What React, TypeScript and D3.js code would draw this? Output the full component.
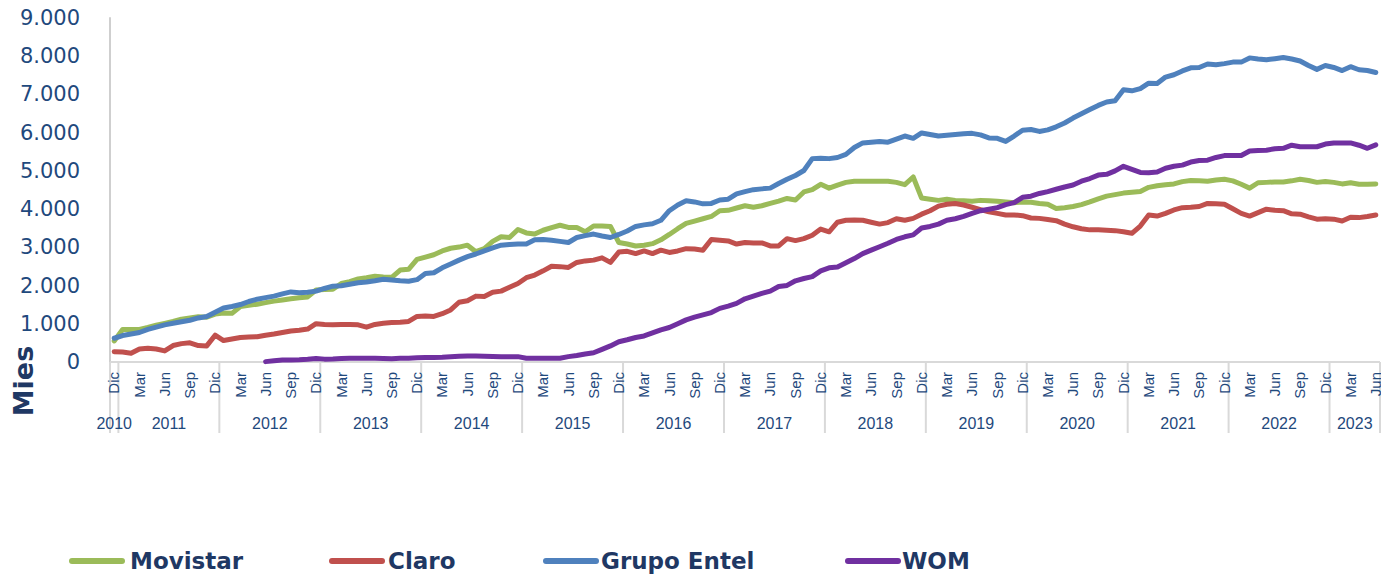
import React from 'react';
import * as d3 from 'd3';

// meses en español, la serie va de Dic 2010 a Jun 2023
const monthNames = ['Ene', 'Feb', 'Mar', 'Abr', 'May', 'Jun', 'Jul', 'Ago', 'Sep', 'Oct', 'Nov', 'Dic'];
const years = [2010, 2011, 2012, 2013, 2014, 2015, 2016, 2017, 2018, 2019, 2020, 2021, 2022, 2023];
const yTicks = [0, 1000, 2000, 3000, 4000, 5000, 6000, 7000, 8000, 9000];
const shownMonths = ['Dic', 'Mar', 'Jun', 'Sep'];

// miles de abonados
const movistar = [
  550, 850, 850, 850, 900, 960, 1010, 1060, 1120, 1150, 1180, 1170,
  1250, 1280, 1270, 1450, 1480, 1510, 1550, 1590, 1620, 1650, 1680, 1700,
  1880, 1890, 1900, 2050, 2100, 2170, 2200, 2240, 2220, 2210, 2400, 2420,
  2680, 2740, 2800, 2900, 2970, 3000, 3050, 2880, 2960, 3150, 3270, 3250,
  3460, 3370, 3340, 3440, 3510, 3570, 3515, 3510, 3400, 3550, 3550, 3540,
  3120, 3080, 3030, 3050, 3090, 3190, 3330, 3480, 3620, 3680, 3740, 3800,
  3950, 3960, 4020, 4080, 4040, 4080, 4140, 4200, 4270, 4230, 4440, 4500,
  4640, 4540, 4620, 4690, 4720, 4720, 4720, 4720, 4720, 4690, 4630, 4830,
  4280, 4250, 4220, 4250, 4220, 4210, 4200, 4220, 4210, 4200, 4180, 4160,
  4180, 4170, 4140, 4120, 4010, 4030, 4060, 4110, 4180, 4260, 4330, 4370,
  4410, 4430, 4450, 4560, 4600, 4630, 4650, 4710, 4740, 4730, 4720, 4750,
  4770, 4730, 4640, 4540, 4680, 4690, 4700, 4700, 4730, 4770, 4740, 4690,
  4710, 4690, 4650, 4680, 4640, 4640, 4650,
];

const claro = [
  270, 260, 230, 340, 360, 340, 290, 430, 480, 500, 430, 420,
  700, 560, 600, 640, 650, 660, 700, 730, 770, 810, 830, 860,
  1000, 980, 970, 980, 980, 970, 910, 980, 1010, 1030, 1040, 1060,
  1190, 1200, 1190, 1260, 1360, 1560, 1600, 1720, 1710, 1820, 1850, 1950,
  2050, 2200, 2270, 2380, 2500, 2490, 2470, 2600, 2640, 2660, 2720, 2600,
  2870, 2890, 2830, 2900, 2830, 2920, 2860, 2900, 2960, 2950, 2920, 3200,
  3180, 3160, 3080, 3120, 3110, 3110, 3030, 3030, 3220, 3170, 3220, 3310,
  3470, 3400, 3650, 3700, 3710, 3700, 3650, 3600, 3640, 3740, 3700, 3750,
  3860, 3950, 4070, 4120, 4140, 4100, 4040, 3980, 3920, 3880, 3840, 3840,
  3820, 3760, 3750, 3720, 3690, 3600, 3530, 3480, 3450, 3450, 3440, 3430,
  3400, 3360, 3550, 3840, 3810, 3880, 3970, 4030, 4040, 4060, 4140, 4130,
  4120, 4000, 3880, 3810, 3900, 3990, 3960, 3950, 3870, 3860, 3790, 3730,
  3740, 3730, 3680, 3780, 3770, 3800, 3840,
];

const entel = [
  620, 690, 730, 770, 850, 910, 970, 1010, 1050, 1090, 1150, 1190,
  1300, 1410, 1450, 1500, 1580, 1640, 1680, 1720, 1780, 1830, 1810, 1820,
  1850, 1920, 1980, 1990, 2030, 2070, 2090, 2120, 2160, 2140, 2120, 2110,
  2150, 2310, 2330, 2460, 2560, 2660, 2750, 2820, 2900, 2980, 3050, 3070,
  3080, 3080, 3190, 3200, 3180, 3150, 3120, 3250, 3300, 3340, 3290, 3250,
  3330, 3420, 3540, 3580, 3610, 3700, 3950, 4100, 4210, 4180, 4130, 4140,
  4230, 4250, 4390, 4450, 4500, 4520, 4540, 4660, 4770, 4870, 5000, 5310,
  5320, 5310, 5340, 5420, 5600, 5720, 5740, 5760, 5740, 5820, 5900, 5840,
  5980, 5940, 5900, 5920, 5940, 5960, 5970, 5930, 5850, 5840, 5760, 5900,
  6050, 6070, 6020, 6060, 6140, 6240, 6370, 6480, 6590, 6700, 6790, 6820,
  7110, 7080, 7140, 7280, 7270, 7440, 7500, 7600, 7680, 7690, 7780, 7760,
  7790, 7830, 7830, 7940, 7910, 7890, 7920, 7950, 7910, 7860, 7740, 7640,
  7740, 7690, 7610, 7710, 7630, 7610, 7560,
];

// WOM parte en Jun 2012
const wom = [
  null, null, null, null, null, null, null, null, null, null, null, null,
  null, null, null, null, null, null, 10, 30, 50, 55, 60, 70,
  90, 75, 80, 90, 95, 100, 100, 95, 90, 85, 95, 100,
  110, 115, 120, 125, 140, 150, 155, 155, 150, 145, 140, 140,
  140, 100, 95, 95, 95, 100, 140, 170, 210, 240, 330, 420,
  530, 580, 640, 680, 760, 840, 900, 1000, 1100, 1170, 1230, 1290,
  1400, 1460, 1530, 1650, 1720, 1790, 1850, 1970, 2000, 2120, 2180, 2230,
  2380, 2460, 2480, 2590, 2700, 2830, 2920, 3010, 3100, 3200, 3270, 3320,
  3500, 3540, 3600, 3700, 3740, 3800, 3880, 3950, 3990, 4030, 4110, 4160,
  4300, 4330, 4400, 4450, 4510, 4570, 4620, 4720, 4790, 4880, 4900, 4990,
  5110, 5030, 4950, 4940, 4960, 5060, 5110, 5140, 5220, 5260, 5270, 5340,
  5390, 5390, 5390, 5510, 5520, 5530, 5570, 5580, 5660, 5620, 5620, 5620,
  5690, 5720, 5720, 5720, 5660, 5580, 5670,
];

const series = [
  { name: 'Movistar', color: '#9BBB59', values: movistar },
  { name: 'Claro', color: '#C0504D', values: claro },
  { name: 'Grupo Entel', color: '#4F81BD', values: entel },
  { name: 'WOM', color: '#7030A0', values: wom },
];

// categorias: mes + año
const categories: { m: string; y: number }[] = [];
years.forEach((y) => {
  monthNames.forEach((m, mi) => {
    if (y === 2010 && mi < 11) return;
    if (y === 2023 && mi > 5) return;
    categories.push({ m, y });
  });
});

const W = 1381;
const H = 574;
const left = 110;
const right = 1380;
const top0 = 17.3;
const base = 362;

const textColor = '#1F497D';
const legendColor = '#1F3864';

export default function App() {
  const x = d3.scaleBand<number>()
    .domain(categories.map((_, i) => i))
    .range([left, right])
    .padding(0);
  const bw = x.bandwidth();
  const cx = (i: number) => (x(i) as number) + bw / 2;

  const y = d3.scaleLinear().domain([0, 9000]).range([base, top0]);

  const line = d3.line<number | null>()
    .defined((d) => d !== null)
    .x((_, i) => cx(i))
    .y((d) => y(d as number));

  // grupos de año
  const groups = years.map((yr) => {
    const idx = categories.map((c, i) => (c.y === yr ? i : -1)).filter((i) => i >= 0);
    const x0 = x(idx[0]) as number;
    const x1 = (x(idx[idx.length - 1]) as number) + bw;
    return { yr, x0, x1 };
  });

  const legendPos = [
    { lx: 69, tx: 130 },
    { lx: 329, tx: 388 },
    { lx: 543, tx: 601 },
    { lx: 845, tx: 902 },
  ];

  return (
    <svg width={W} height={H} style={{ position: 'absolute', left: 0, top: 0, background: '#fff' }}>
      {/* eje Y */}
      <line x1={left} x2={left} y1={top0} y2={base} stroke="#BFBFBF" strokeWidth={1.5} />
      {yTicks.map((t) => (
        <text key={t} x={80} y={y(t)} dy="0.35em" textAnchor="end"
          fontFamily="DejaVu Sans, Verdana, sans-serif" fontSize={21} fill={textColor}>
          {d3.format(',')(t).replace(/,/g, '.')}
        </text>
      ))}
      <text transform={`translate(33,381) rotate(-90)`} textAnchor="middle"
        fontFamily="DejaVu Sans, Verdana, sans-serif" fontWeight="bold" fontSize={27} fill={legendColor}>
        Mies
      </text>

      {/* eje X */}
      <line x1={left} x2={right} y1={base} y2={base} stroke="#D9D9D9" strokeWidth={2} />
      {groups.map((g) => (
        <line key={'s' + g.yr} x1={g.x0} x2={g.x0} y1={base} y2={433} stroke="#D9D9D9" strokeWidth={2} />
      ))}
      <line x1={right} x2={right} y1={base} y2={433} stroke="#D9D9D9" strokeWidth={2} />
      {categories.map((c, i) =>
        shownMonths.includes(c.m) && i % 3 === 0 ? (
          <text key={'m' + i} transform={`translate(${cx(i)},372) rotate(-90)`} dy="0.35em"
            textAnchor="end" fontFamily="Liberation Sans, Arial, sans-serif" fontSize={15} fill={textColor}>
            {c.m}
          </text>
        ) : null
      )}
      {groups.map((g) => (
        <text key={'y' + g.yr} x={(g.x0 + g.x1) / 2} y={429} textAnchor="middle"
          fontFamily="Liberation Sans, Arial, sans-serif" fontSize={16} fill={textColor}>
          {g.yr}
        </text>
      ))}

      {/* series */}
      {series.map((s) => (
        <path key={s.name} d={line(s.values) || ''} fill="none" stroke={s.color}
          strokeWidth={5} strokeLinejoin="round" strokeLinecap="round" />
      ))}

      {/* leyenda */}
      {series.map((s, i) => (
        <g key={'l' + s.name}>
          <line x1={legendPos[i].lx + 3} x2={legendPos[i].lx + 53} y1={561} y2={561}
            stroke={s.color} strokeWidth={6} strokeLinecap="round" />
          <text x={legendPos[i].tx} y={569} fontFamily="DejaVu Sans, Verdana, sans-serif"
            fontWeight="bold" fontSize={23} fill={legendColor}>
            {s.name}
          </text>
        </g>
      ))}
    </svg>
  );
}
